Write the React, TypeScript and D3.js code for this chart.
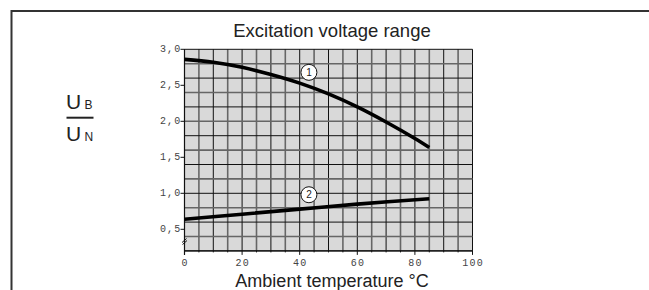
import * as d3 from "d3";

const W = 649;
const H = 290;
const PLOT = { left: 184.5, top: 49.3, right: 472.5, bottom: 250.9 };

const xTicks = [0, 20, 40, 60, 80, 100];
const yTicks = [0.5, 1.0, 1.5, 2.0, 2.5, 3.0];
const yTickLabels = ["0,5", "1,0", "1,5", "2,0", "2,5", "3,0"];

// curve 1 (upper) and curve 2 (lower)
const temp1 = [0, 10, 20, 30, 40, 50, 60, 70, 80, 85];
const ratio1 = [2.86, 2.82, 2.75, 2.65, 2.53, 2.38, 2.2, 1.99, 1.76, 1.635];
const temp2 = [0, 20, 40, 60, 85];
const ratio2 = [0.64, 0.71, 0.78, 0.85, 0.925];

const labels = [
  { id: "1", x: 43.2, y: 2.68 },
  { id: "2", x: 43.2, y: 0.98 },
];

const mono = "'Liberation Mono', 'DejaVu Sans Mono', monospace";
const sans = "'Liberation Sans', Arial, sans-serif";

export default function App() {
  const x = d3.scaleLinear().domain([0, 100]).range([PLOT.left, PLOT.right]);
  const y = d3.scaleLinear().domain([0.2, 3.0]).range([PLOT.bottom, PLOT.top]);

  const gridX = d3.range(0, 101, 5);
  const gridY = d3.range(0, 15).map((i) => 0.2 + i * 0.2);
  const minorX = d3.range(0, 101, 5);

  const line = d3
    .line<[number, number]>()
    .x((d) => x(d[0]))
    .y((d) => y(d[1]))
    .curve(d3.curveCatmullRom);

  const path1 = line(temp1.map((t, i) => [t, ratio1[i]]));
  const path2 = line(temp2.map((t, i) => [t, ratio2[i]]));

  return (
    <svg
      width={W}
      height={H}
      style={{ position: "absolute", left: 0, top: 0, background: "#fff" }}
    >
      {/* outer frame */}
      <path d={`M11.5,${H} V11 H${W}`} fill="none" stroke="#333" strokeWidth={2} />

      <text x={332} y={37} textAnchor="middle" fontFamily={sans} fontSize={18.5} fill="#222">
        Excitation voltage range
      </text>

      {/* plot area */}
      <rect
        x={PLOT.left}
        y={PLOT.top}
        width={PLOT.right - PLOT.left}
        height={PLOT.bottom - PLOT.top}
        fill="#d9d9d9"
      />
      {gridX.map((v, i) => (
        <line
          key={"gx" + v}
          x1={x(v)}
          x2={x(v)}
          y1={PLOT.top}
          y2={PLOT.bottom}
          stroke={i % 2 ? "#666" : "#111"}
          strokeWidth={i % 2 ? 1.6 : 1}
        />
      ))}
      {gridY.map((v, i) => (
        <line
          key={"gy" + i}
          x1={PLOT.left}
          x2={PLOT.right}
          y1={y(v)}
          y2={y(v)}
          stroke={i % 2 ? "#666" : "#111"}
          strokeWidth={i % 2 ? 1.6 : 1}
        />
      ))}

      {/* axes */}
      <line x1={PLOT.left} x2={PLOT.left} y1={PLOT.top} y2={PLOT.bottom + 4} stroke="#111" strokeWidth={1.2} />
      <line x1={PLOT.left} x2={PLOT.right} y1={PLOT.bottom} y2={PLOT.bottom} stroke="#111" strokeWidth={1.2} />
      {minorX.map((v) => (
        <line
          key={"mx" + v}
          x1={x(v)}
          x2={x(v)}
          y1={PLOT.bottom}
          y2={PLOT.bottom + (v % 20 === 0 ? 4 : 1.5)}
          stroke="#111"
        />
      ))}
      {xTicks.map((v) => (
        <text
          key={"xt" + v}
          x={x(v) + 0.6}
          y={266}
          textAnchor="middle"
          fontFamily={mono}
          fontSize={10}
          letterSpacing={1.2}
          fill="#444"
        >
          {v}
        </text>
      ))}
      {yTicks.map((v, i) => (
        <g key={"yt" + v}>
          <line x1={PLOT.left - 4} x2={PLOT.left} y1={y(v)} y2={y(v)} stroke="#111" />
          <text
            x={PLOT.left - 3}
            y={y(v) + 3}
            textAnchor="end"
            fontFamily={mono}
            fontSize={10}
            letterSpacing={1.2}
            fill="#444"
          >
            {yTickLabels[i]}
          </text>
        </g>
      ))}

      {/* axis break mark */}
      <g stroke="#111" strokeWidth={1}>
        <line x1={x(0) - 2.5} x2={x(0) + 2} y1={y(0.33) + 1} y2={y(0.33) - 3} />
        <line x1={x(0) - 2} x2={x(0) + 2.5} y1={y(0.33) + 3} y2={y(0.33) - 1} />
      </g>

      {/* curves */}
      <path d={path1 ?? ""} fill="none" stroke="#000" strokeWidth={3.6} />
      <path d={path2 ?? ""} fill="none" stroke="#000" strokeWidth={3.6} />

      {labels.map((l) => (
        <g key={l.id}>
          <circle cx={x(l.x)} cy={y(l.y)} r={8} fill="#fff" stroke="#111" strokeWidth={1} />
          <text
            x={x(l.x)}
            y={y(l.y) + 3.5}
            textAnchor="middle"
            fontFamily={sans}
            fontSize={10}
            fill="#222"
          >
            {l.id}
          </text>
        </g>
      ))}

      {/* axis titles */}
      <text x={332} y={287} textAnchor="middle" fontFamily={sans} fontSize={18} fill="#222">
        Ambient temperature °C
      </text>
      <g fontFamily={sans} fill="#222">
        <text x={66} y={109} fontSize={21}>U</text>
        <text x={84.5} y={109} fontSize={12}>B</text>
        <line x1={66.5} x2={93.5} y1={117.7} y2={117.7} stroke="#222" strokeWidth={2} />
        <text x={66} y={141} fontSize={21}>U</text>
        <text x={84.5} y={141} fontSize={12}>N</text>
      </g>
    </svg>
  );
}
